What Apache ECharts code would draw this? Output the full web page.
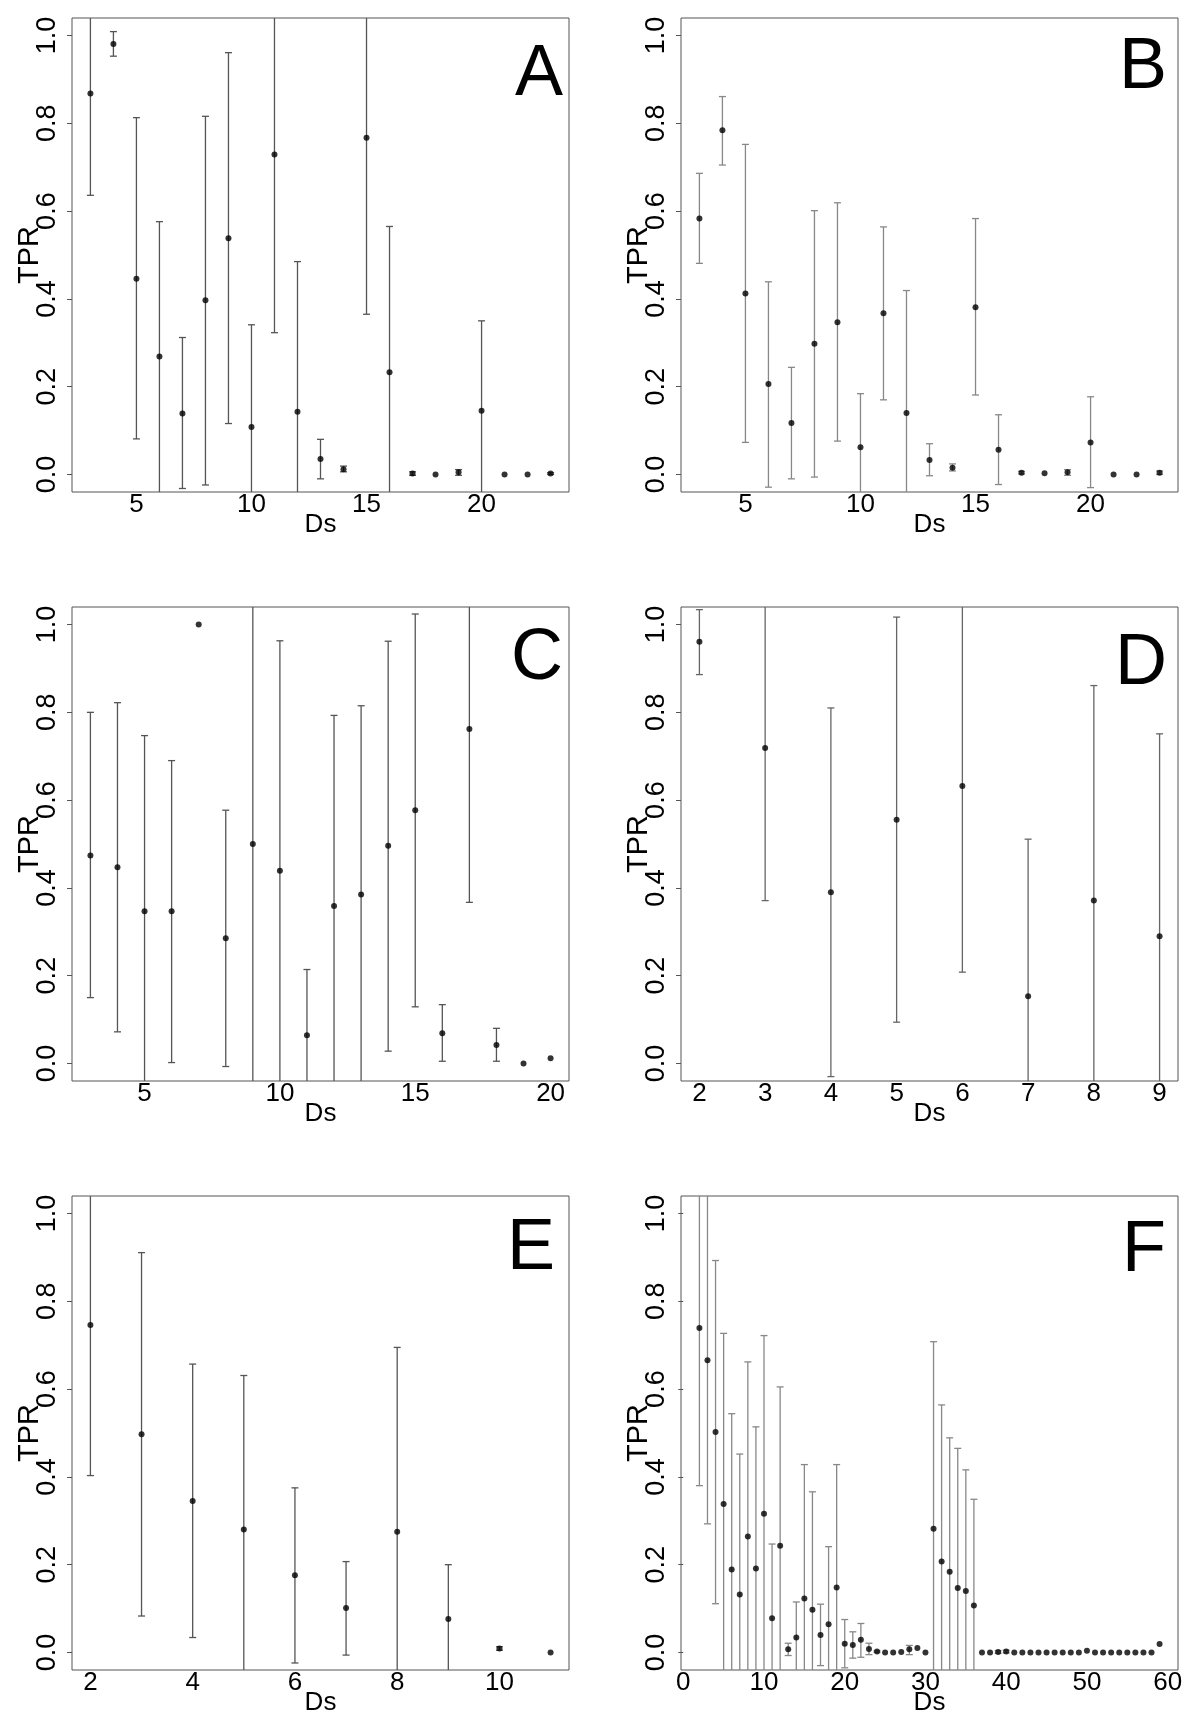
<!DOCTYPE html>
<html>
<head>
<meta charset="utf-8">
<script src="https://cdn.jsdelivr.net/npm/echarts@6/dist/echarts.min.js"></script>
<style>
html,body{margin:0;padding:0;background:#fff;}
#chart{width:1200px;height:1723px;}
</style>
</head>
<body>
<div id="chart"></div>
<script>
// ---------- data ----------
const yTickValues = [0, 0.2, 0.4, 0.6, 0.8, 1.0];
const yTickLabels = ['0.0', '0.2', '0.4', '0.6', '0.8', '1.0'];

const aTicks = [5, 10, 15, 20];
const aDs   = [3,4,5,6,7,8,9,10,11,12,13,14,15,16,17,18,19,20,21,22,23];
const aTPR  = [0.868,0.981,0.446,0.269,0.139,0.397,0.538,0.108,0.729,0.143,0.035,0.012,0.767,0.233,0.002,0.000,0.005,0.145,0.000,0.000,0.002];
const aLow  = [0.636,0.953,0.081,-0.060,-0.032,-0.024,0.116,-0.125,0.323,-0.199,-0.010,0.006,0.365,-0.099,-0.002,0.000,-0.002,-0.060,0.000,0.000,0.000];
const aHigh = [1.100,1.009,0.813,0.576,0.312,0.816,0.961,0.341,1.135,0.485,0.080,0.019,1.169,0.565,0.006,0.000,0.011,0.350,0.000,0.000,0.004];

const bTicks = [5, 10, 15, 20];
const bDs   = [3,4,5,6,7,8,9,10,11,12,13,14,15,16,17,18,19,20,21,22,23];
const bTPR  = [0.583,0.784,0.412,0.206,0.117,0.298,0.347,0.062,0.367,0.140,0.033,0.015,0.381,0.056,0.004,0.003,0.005,0.073,0.000,0.000,0.004];
const bLow  = [0.481,0.705,0.073,-0.029,-0.010,-0.006,0.076,-0.060,0.170,-0.139,-0.003,0.008,0.181,-0.023,0.001,0.003,-0.002,-0.030,0.000,0.000,0.000];
const bHigh = [0.686,0.861,0.752,0.439,0.244,0.601,0.619,0.184,0.564,0.419,0.070,0.024,0.583,0.136,0.007,0.003,0.011,0.177,0.000,0.000,0.008];

const cTicks = [5, 10, 15, 20];
const cDs   = [3,4,5,6,7,8,9,10,11,12,13,14,15,16,17,18,19,20];
const cTPR  = [0.474,0.447,0.347,0.347,1.000,0.285,0.500,0.439,0.064,0.359,0.385,0.496,0.577,0.069,0.762,0.042,0.000,0.012];
const cLow  = [0.150,0.072,-0.053,0.002,1.000,-0.007,-0.100,-0.085,-0.086,-0.075,-0.060,0.028,0.129,0.005,0.367,0.005,0.000,0.012];
const cHigh = [0.800,0.822,0.747,0.690,1.000,0.577,1.100,0.963,0.214,0.793,0.815,0.962,1.024,0.134,1.157,0.080,0.000,0.012];

const dTicks = [2, 3, 4, 5, 6, 7, 8, 9];
const dDs   = [2,3,4,5,6,7,8,9];
const dTPR  = [0.961,0.719,0.390,0.555,0.632,0.153,0.371,0.290];
const dLow  = [0.886,0.371,-0.030,0.094,0.208,-0.205,-0.119,-0.171];
const dHigh = [1.034,1.067,0.810,1.017,1.056,0.511,0.861,0.751];

const eTicks = [2, 4, 6, 8, 10];
const eDs   = [2,3,4,5,6,7,8,9,10,11];
const eTPR  = [0.746,0.497,0.345,0.280,0.176,0.101,0.275,0.076,0.009,0.000];
const eLow  = [0.403,0.083,0.034,-0.071,-0.024,-0.006,-0.145,-0.048,0.005,0.000];
const eHigh = [1.089,0.911,0.657,0.631,0.375,0.207,0.695,0.200,0.013,0.000];

const fTicks = [0, 10, 20, 30, 40, 50, 60];
const fDs   = [2,3,4,5,6,7,8,9,10,11,12,13,14,15,16,17,18,19,20,21,22,23,24,25,26,27,28,29,30,
               31,32,33,34,35,36,37,38,39,40,41,42,43,44,45,46,47,48,49,50,51,52,53,54,55,56,57,58,59];
const fTPR  = [0.739,0.666,0.502,0.338,0.189,0.132,0.264,0.191,0.316,0.078,0.243,0.007,0.034,0.123,0.097,0.040,0.064,0.148,0.020,0.017,0.029,0.008,0.002,0.000,0.000,0.001,0.007,0.010,0.000,
               0.282,0.207,0.184,0.147,0.140,0.107,0.000,0.000,0.001,0.002,0.000,0.000,0.000,0.000,0.000,0.000,0.000,0.000,0.000,0.004,0.000,0.000,0.000,0.000,0.000,0.000,0.000,0.000,0.019];
const fLow  = [0.380,0.293,0.111,-0.060,-0.166,-0.190,-0.134,-0.130,-0.090,-0.090,-0.120,-0.007,-0.050,-0.180,-0.170,-0.030,-0.110,-0.130,-0.035,-0.013,-0.011,-0.005,0.000,0.000,0.000,0.001,-0.005,0.010,0.000,
               -0.140,-0.150,-0.120,-0.170,-0.140,-0.135,0.000,0.000,-0.002,-0.001,0.000,0.000,0.000,0.000,0.000,0.000,0.000,0.000,0.000,0.004,0.000,0.000,0.000,0.000,0.000,0.000,0.000,0.000,0.019];
const fHigh = [1.098,1.060,0.893,0.727,0.544,0.452,0.662,0.514,0.722,0.247,0.605,0.021,0.115,0.428,0.366,0.110,0.241,0.428,0.075,0.047,0.066,0.021,0.004,0.000,0.000,0.001,0.016,0.010,0.000,
               0.708,0.564,0.489,0.465,0.416,0.349,0.000,0.000,0.004,0.005,0.000,0.000,0.000,0.000,0.000,0.000,0.000,0.000,0.000,0.004,0.000,0.000,0.000,0.000,0.000,0.000,0.000,0.000,0.019];

// ---------- layout ----------
const FONT = 'Liberation Sans, Arial, Helvetica, sans-serif';
const panels = [
  {letter:'A', ds:aDs, tpr:aTPR, lo:aLow, hi:aHigh, ticks:aTicks, xmin:2.2,   xmax:23.8,  left:72,  top:18,   barColor:'#555', lx:563,  ly:39},
  {letter:'B', ds:bDs, tpr:bTPR, lo:bLow, hi:bHigh, ticks:bTicks, xmin:2.2,   xmax:23.8,  left:681, top:18,   barColor:'#888', lx:1167, ly:32},
  {letter:'C', ds:cDs, tpr:cTPR, lo:cLow, hi:cHigh, ticks:cTicks, xmin:2.32,  xmax:20.68, left:72,  top:607,  barColor:'#555', lx:563,  ly:623},
  {letter:'D', ds:dDs, tpr:dTPR, lo:dLow, hi:dHigh, ticks:dTicks, xmin:1.72,  xmax:9.28,  left:681, top:607,  barColor:'#666', lx:1167, ly:628},
  {letter:'E', ds:eDs, tpr:eTPR, lo:eLow, hi:eHigh, ticks:eTicks, xmin:1.64,  xmax:11.36, left:72,  top:1196, barColor:'#555', lx:555,  ly:1213},
  {letter:'F', ds:fDs, tpr:fTPR, lo:fLow, hi:fHigh, ticks:fTicks, xmin:-0.28, xmax:61.28, left:681, top:1196, barColor:'#888', lx:1166, ly:1215}
];
const W = 497, H = 474;

const grids = [], xAxes = [], yAxes = [], series = [], graphics = [];

panels.forEach((p, i) => {
  grids.push({left:p.left, top:p.top, width:W, height:H, show:true,
              borderColor:'#555', borderWidth:1, backgroundColor:'transparent'});
  xAxes.push({
    type:'value', gridIndex:i, min:p.xmin, max:p.xmax,
    axisLine:{show:false}, axisTick:{show:false}, splitLine:{show:false},
    axisLabel:{customValues:p.ticks, fontSize:26, color:'#000', fontFamily:FONT, margin:0,
               formatter:(v) => String(p.ticks[p.ticks.indexOf(v)])},
    name:'Ds', nameLocation:'middle', nameGap:20, nameMoveOverlap:false,
    nameTextStyle:{fontSize:26, color:'#000', fontFamily:FONT}
  });
  yAxes.push({
    type:'value', gridIndex:i, min:-0.04, max:1.04,
    axisLine:{show:false}, splitLine:{show:false},
    axisTick:{show:true, customValues:yTickValues, length:5, lineStyle:{color:'#555', width:1}},
    axisLabel:{customValues:yTickValues, rotate:90, fontSize:27, color:'#000', fontFamily:FONT, margin:11,
               formatter:(v) => { const k = yTickValues.findIndex(t => Math.abs(t - v) < 1e-9); return k >= 0 ? yTickLabels[k] : ''; }},
    name:'TPR', nameLocation:'middle', nameRotate:90, nameGap:28, nameMoveOverlap:false,
    nameTextStyle:{fontSize:29, color:'#000', fontFamily:FONT}
  });
  const barData = p.ds.map((d, k) => [d, p.lo[k], p.hi[k]]);
  const color = p.barColor;
  series.push({
    type:'custom', xAxisIndex:i, yAxisIndex:i, data:barData, silent:true,
    encode:{x:0, y:[1, 2]},
    renderItem:(params, api) => {
      const x = api.value(0), lo = api.value(1), hi = api.value(2);
      if (!(hi - lo > 1e-9)) return null;
      const pLo = api.coord([x, lo]), pHi = api.coord([x, hi]);
      const cs = params.coordSys;
      const top = cs.y, bot = cs.y + cs.height;
      let yT = pHi[1], yB = pLo[1];
      const capT = yT >= top, capB = yB <= bot;
      yT = Math.max(yT, top); yB = Math.min(yB, bot);
      const st = {stroke:color, lineWidth:1.3, fill:null};
      const cap = 3.5;
      const ch = [{type:'line', shape:{x1:pLo[0], y1:yB, x2:pLo[0], y2:yT}, style:st}];
      if (capT) ch.push({type:'line', shape:{x1:pHi[0]-cap, y1:yT, x2:pHi[0]+cap, y2:yT}, style:st});
      if (capB) ch.push({type:'line', shape:{x1:pLo[0]-cap, y1:yB, x2:pLo[0]+cap, y2:yB}, style:st});
      return {type:'group', children:ch};
    }
  });
  series.push({
    type:'scatter', xAxisIndex:i, yAxisIndex:i, silent:true,
    data:p.ds.map((d, k) => [d, p.tpr[k]]),
    symbol:'circle', symbolSize:6, itemStyle:{color:'#000'}
  });
  graphics.push({type:'text', x:p.lx, y:p.ly,
    style:{text:p.letter, fontSize:72, fontFamily:FONT, fill:'#000', textAlign:'right', textVerticalAlign:'top'}});
});

const chart = echarts.init(document.getElementById('chart'), null, {renderer:'canvas'});
chart.setOption({
  animation:false,
  backgroundColor:'#fff',
  grid:grids, xAxis:xAxes, yAxis:yAxes, series:series,
  graphic:graphics
});
</script>
</body>
</html>
